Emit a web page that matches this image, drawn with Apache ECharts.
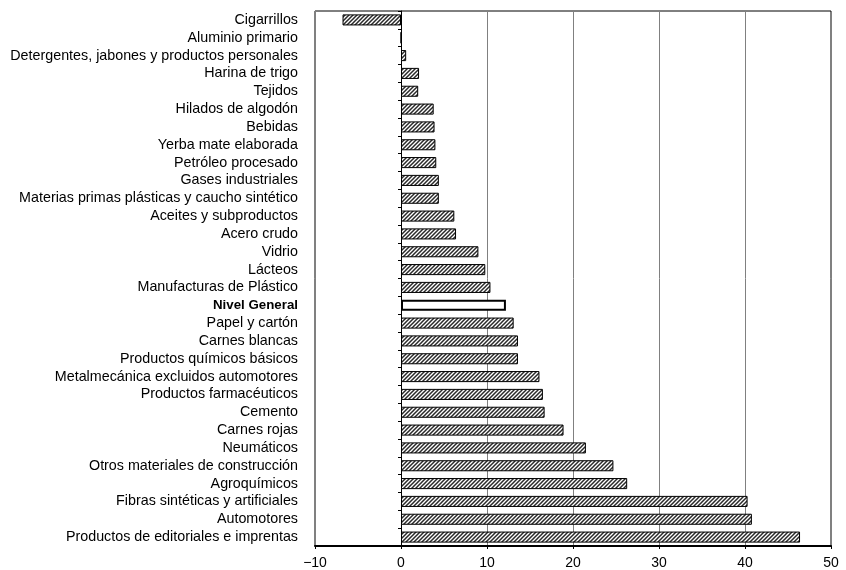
<!DOCTYPE html>
<html><head><meta charset="utf-8">
<script src="https://cdn.jsdelivr.net/npm/echarts@6/dist/echarts.min.js"></script>
<style>html,body{margin:0;padding:0;background:#fff}#c{width:846px;height:570px}</style>
</head><body><div id="c"></div>
<script>
const categories = ["Cigarrillos","Aluminio primario","Detergentes, jabones y productos personales","Harina de trigo","Tejidos","Hilados de algodón","Bebidas","Yerba mate elaborada","Petróleo procesado","Gases industriales","Materias primas plásticas y caucho sintético","Aceites y subproductos","Acero crudo","Vidrio","Lácteos","Manufacturas de Plástico","Nivel General","Papel y cartón","Carnes blancas","Productos químicos básicos","Metalmecánica excluidos automotores","Productos farmacéuticos","Cemento","Carnes rojas","Neumáticos","Otros materiales de construcción","Agroquímicos","Fibras sintéticas y artificiales","Automotores","Productos de editoriales e imprentas"];
const values = [-6.8,0,0.6,2.1,2.0,3.8,3.9,4.0,4.1,4.4,4.4,6.2,6.4,9.0,9.8,10.4,12.2,13.1,13.6,13.6,16.1,16.5,16.7,18.9,21.5,24.7,26.3,40.3,40.8,46.4];
const xTicks = [-10,0,10,20,30,40,50];
const highlight = "Nivel General";

const pc = document.createElement('canvas');
pc.width = 4; pc.height = 4;
const g = pc.getContext('2d');
g.fillStyle = '#ffffff'; g.fillRect(0,0,4,4);
g.strokeStyle = '#2a2a2a'; g.lineWidth = 1.5;
g.beginPath();
g.moveTo(-1,5); g.lineTo(5,-1);
g.moveTo(-1,1); g.lineTo(1,-1);
g.moveTo(3,5); g.lineTo(5,3);
g.stroke();

const chart = echarts.init(document.getElementById('c'), null, {renderer:'canvas'});
const seriesData = values.map((v,i)=> categories[i]===highlight ?
  {value:v, itemStyle:{color:'#ffffff', borderColor:'#000', borderWidth:2}} :
  {value:v});
const FF = 'Liberation Sans, Arial, sans-serif';
chart.setOption({
  animation:false,
  grid:{left:315,right:15,top:11,bottom:24,show:true,borderColor:'#000',borderWidth:1,containLabel:false},
  xAxis:{type:'value',min:xTicks[0],max:xTicks[xTicks.length-1],interval:10,
    axisLine:{show:true,onZero:false,lineStyle:{color:'#000',width:2}},
    axisTick:{show:true,length:3,lineStyle:{color:'#000'}},
    axisLabel:{color:'#000',fontFamily:FF,fontSize:14,margin:10,
      formatter:v=>String(v).replace('-','\u2212')},
    splitLine:{show:true,lineStyle:{color:'#808080',width:1}}},
  yAxis:[
    {type:'category',data:categories,inverse:true,position:'left',
     axisLine:{show:false,onZero:false},axisTick:{show:false},
     axisLabel:{interval:0,color:'#000',fontFamily:FF,fontSize:14.3,margin:17,
       formatter:v=> v===highlight ? '{b|'+v+'}' : v,
       rich:{b:{fontWeight:'bold',fontFamily:FF,fontSize:13.3,color:'#000'}}}},
    {type:'category',data:categories,inverse:true,position:'left',
     axisLine:{show:true,onZero:true,lineStyle:{color:'#000',width:1}},
     axisTick:{show:true,length:3,interval:0,lineStyle:{color:'#000'}},
     axisLabel:{show:false}}
  ],
  series:[{type:'bar',yAxisIndex:0,data:seriesData,barWidth:'62%',
    itemStyle:{color:{image:pc,repeat:'repeat'},borderColor:'#000',borderWidth:1}}]
});
</script></body></html>
